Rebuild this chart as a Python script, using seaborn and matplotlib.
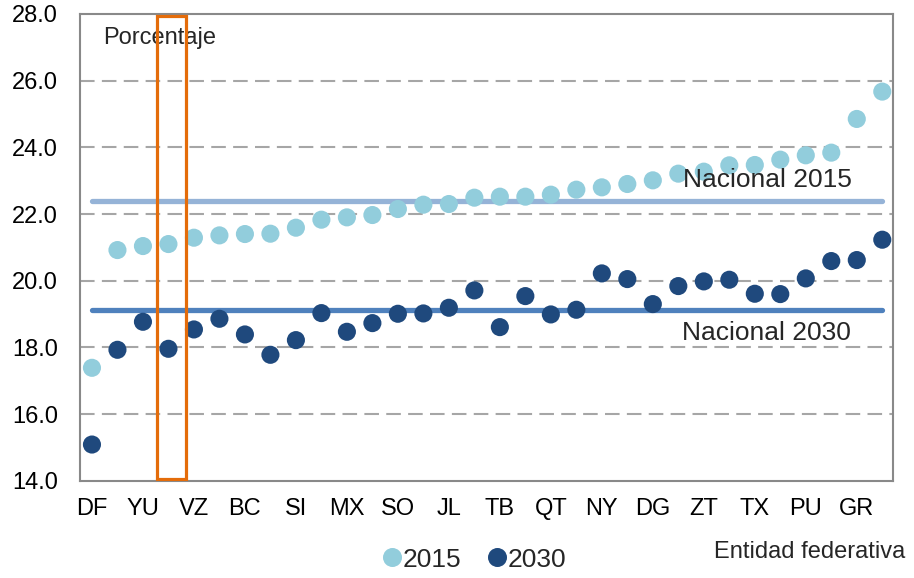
import seaborn as sns
import pandas as pd
import matplotlib.pyplot as plt
from matplotlib.patches import Rectangle

# entidades (every second one is labelled on the axis)
entidades = ['DF', 'e2', 'YU', 'e4', 'VZ', 'e6', 'BC', 'e8', 'SI', 'e10', 'MX', 'e12',
             'SO', 'e14', 'JL', 'e16', 'TB', 'e18', 'QT', 'e20', 'NY', 'e22', 'DG', 'e24',
             'ZT', 'e26', 'TX', 'e28', 'PU', 'e30', 'GR', 'e32']
tick_labels = ['DF', 'YU', 'VZ', 'BC', 'SI', 'MX', 'SO', 'JL', 'TB', 'QT', 'NY', 'DG',
               'ZT', 'TX', 'PU', 'GR']

v2015 = [17.39, 20.92, 21.04, 21.10, 21.29, 21.36, 21.40, 21.41, 21.59, 21.83, 21.90,
         21.97, 22.15, 22.28, 22.30, 22.49, 22.52, 22.52, 22.58, 22.73, 22.80, 22.90,
         23.01, 23.21, 23.27, 23.46, 23.47, 23.63, 23.76, 23.84, 24.85, 25.67]
v2030 = [15.09, 17.93, 18.77, 17.96, 18.54, 18.86, 18.39, 17.78, 18.22, 19.03, 18.47,
         18.73, 19.01, 19.02, 19.19, 19.71, 18.61, 19.54, 18.99, 19.13, 20.22, 20.05,
         19.30, 19.84, 19.98, 20.03, 19.61, 19.60, 20.07, 20.59, 20.62, 21.23]
nacional_2015 = 22.39
nacional_2030 = 19.12

df = pd.DataFrame({
    'pos': list(range(len(entidades))) * 2,
    'valor': v2015 + v2030,
    'serie': ['2015'] * len(v2015) + ['2030'] * len(v2030),
})

sns.set_style('white')
plt.rcParams['font.family'] = ['Liberation Sans', 'DejaVu Sans']

fig = plt.figure(figsize=(9.14, 5.78), dpi=100)
ax = fig.add_axes([0.0875, 0.168, 0.8895, 0.808])

n = len(entidades)
# national reference lines
ax.plot([0, n - 1], [nacional_2015] * 2, color='#95B3D7', lw=3.8, solid_capstyle='round', zorder=2)
ax.plot([0, n - 1], [nacional_2030] * 2, color='#4F81BD', lw=3.8, solid_capstyle='round', zorder=2)

sns.scatterplot(data=df, x='pos', y='valor', hue='serie',
                palette={'2015': '#92CDDC', '2030': '#1F497D'},
                s=170, linewidth=0, ax=ax, zorder=3)

ax.set_xlim(-0.47, 31.42)
ax.set_ylim(14, 28)
ax.set_yticks([14, 16, 18, 20, 22, 24, 26, 28])
ax.set_yticklabels([f'{v:.1f}' for v in [14, 16, 18, 20, 22, 24, 26, 28]])
ax.set_xticks(list(range(0, n, 2)))
ax.set_xticklabels(tick_labels)
ax.tick_params(axis='both', length=0, labelsize=17, colors='black')
ax.tick_params(axis='y', pad=16)
ax.tick_params(axis='x', pad=12)
ax.set_xlabel('')
ax.set_ylabel('')

for y in [16, 18, 20, 22, 24, 26]:
    ax.axhline(y, color='#A6A6A6', lw=1.5, linestyle=(0, (7, 3.5)), zorder=1)

for sp in ax.spines.values():
    sp.set_color('#898989')
    sp.set_linewidth(1.5)

# highlight box
ax.add_patch(Rectangle((2.55, 14.05), 1.14, 13.9, fill=False, edgecolor='#E46C0A',
                       lw=2.3, zorder=4))

ax.text(0.028, 0.949, 'Porcentaje', transform=ax.transAxes, fontsize=17,
        va='center', ha='left')
ax.text(26.5, 23.02, 'Nacional 2015', fontsize=19, ha='center', va='center', zorder=5)
ax.text(26.45, 18.44, 'Nacional 2030', fontsize=19, ha='center', va='center', zorder=5)

handles, labels = ax.get_legend_handles_labels()
ax.legend(handles, labels, loc='center', bbox_to_anchor=(0.51, 0.032),
          bbox_transform=fig.transFigure, ncol=2, frameon=False, fontsize=19,
          handletextpad=-0.6, columnspacing=0.35, markerscale=1.05)

fig.text(0.99, 0.045, 'Entidad federativa', fontsize=17, ha='right', va='center')

fig.savefig('out.png', dpi=100)
